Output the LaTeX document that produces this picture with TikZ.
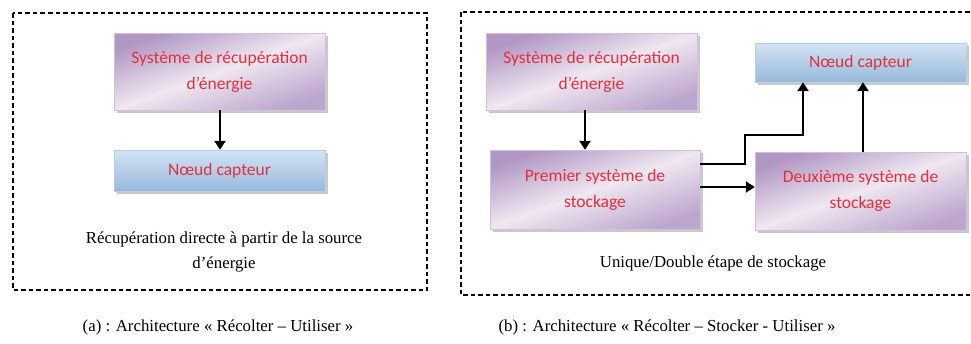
\documentclass[tikz,border=0pt]{standalone}
\usepackage{fontspec}
\setmainfont{Liberation Serif}
\newfontfamily\calibri{Carlito}
\usetikzlibrary{arrows.meta,shadows}
\definecolor{redtxt}{HTML}{E2303C}
\definecolor{purA}{HTML}{B097C4}
\definecolor{purB}{HTML}{F0E7F1}
\definecolor{purC}{HTML}{BDA6CD}
\definecolor{bluA}{HTML}{D3E3F3}
\definecolor{bluB}{HTML}{98B9DD}
\tikzset{
  pbox/.style={rectangle, inner sep=0pt, align=center, text=redtxt,
    font=\calibri\fontsize{17.5}{26}\selectfont,
    top color=purA, bottom color=purC, middle color=purB, shading angle=20,
    draw=purA!60,
    drop shadow={shadow xshift=3pt, shadow yshift=-3pt, fill=black!35, opacity=0.6}},
  bbox/.style={rectangle, inner sep=0pt, align=center, text=redtxt,
    font=\calibri\fontsize{17.5}{26}\selectfont,
    top color=bluA, bottom color=bluB,
    draw=bluB!70,
    drop shadow={shadow xshift=3pt, shadow yshift=-3pt, fill=black!35, opacity=0.6}},
  frame/.style={draw=black, line width=1.1pt, dash pattern=on 4.5pt off 3pt},
  arr/.style={draw=black, line width=2.6pt, -{Triangle[length=9pt,width=11pt]}},
  lbl/.style={align=center, font=\fontsize{16.8}{25}\selectfont},
}
\begin{document}
\begin{tikzpicture}[x=1pt,y=-1pt]
\useasboundingbox (0,0) rectangle (971,343);
\fill[white] (0,0) rectangle (971,343);
% frames
\draw[frame] (13,13) rectangle (427,290);
\draw[frame] (461,12) rectangle (976,295);
% left architecture
\node[pbox, minimum width=211pt, minimum height=77pt] (s1) at (219.5,71.5) {Système de récupération\\d’énergie};
\node[bbox, minimum width=211pt, minimum height=41pt] (n1) at (219.5,170.5) {Nœud capteur};
\node[lbl] (t1) at (224,252) {Récupération directe à partir de la source\\d’énergie};
\draw[arr] ([xshift=0.5pt]s1.south) -- ([xshift=0.5pt]s1.south |- n1.north);
% right architecture
\node[pbox, minimum width=211pt, minimum height=77pt] (s2) at (591.5,71.5) {Système de récupération\\d’énergie};
\node[pbox, minimum width=210pt, minimum height=79pt] (p) at (595,189.5) {Premier système de\\stockage};
\node[pbox, minimum width=211pt, minimum height=78pt] (d) at (860.5,191) {Deuxième système de\\stockage};
\node[bbox, minimum width=211pt, minimum height=39pt] (n2) at (860.5,62.5) {Nœud capteur};
\node[lbl] (t2) at (713,263) {Unique/Double étape de stockage};
\coordinate (j1) at (745,135);
\draw[arr] ([xshift=-6.5pt]s2.south) -- ([xshift=-6.5pt]s2.south |- p.north);
\draw[arr] ([yshift=25.5pt]p.east) -| (j1) -| ([xshift=-57.5pt]n2.south);
\draw[arr] ([yshift=2.5pt]p.east) -- ([yshift=2.5pt]p.east -| d.west);
\draw[arr] ([xshift=2.5pt]d.north) -- ([xshift=2.5pt]n2.south);
% captions
\node[lbl] (ca) at (218,327) {(a) : Architecture « Récolter – Utiliser »};
\node[lbl] (cb) at (667,327) {(b) : Architecture « Récolter – Stocker - Utiliser »};
\end{tikzpicture}
\end{document}
